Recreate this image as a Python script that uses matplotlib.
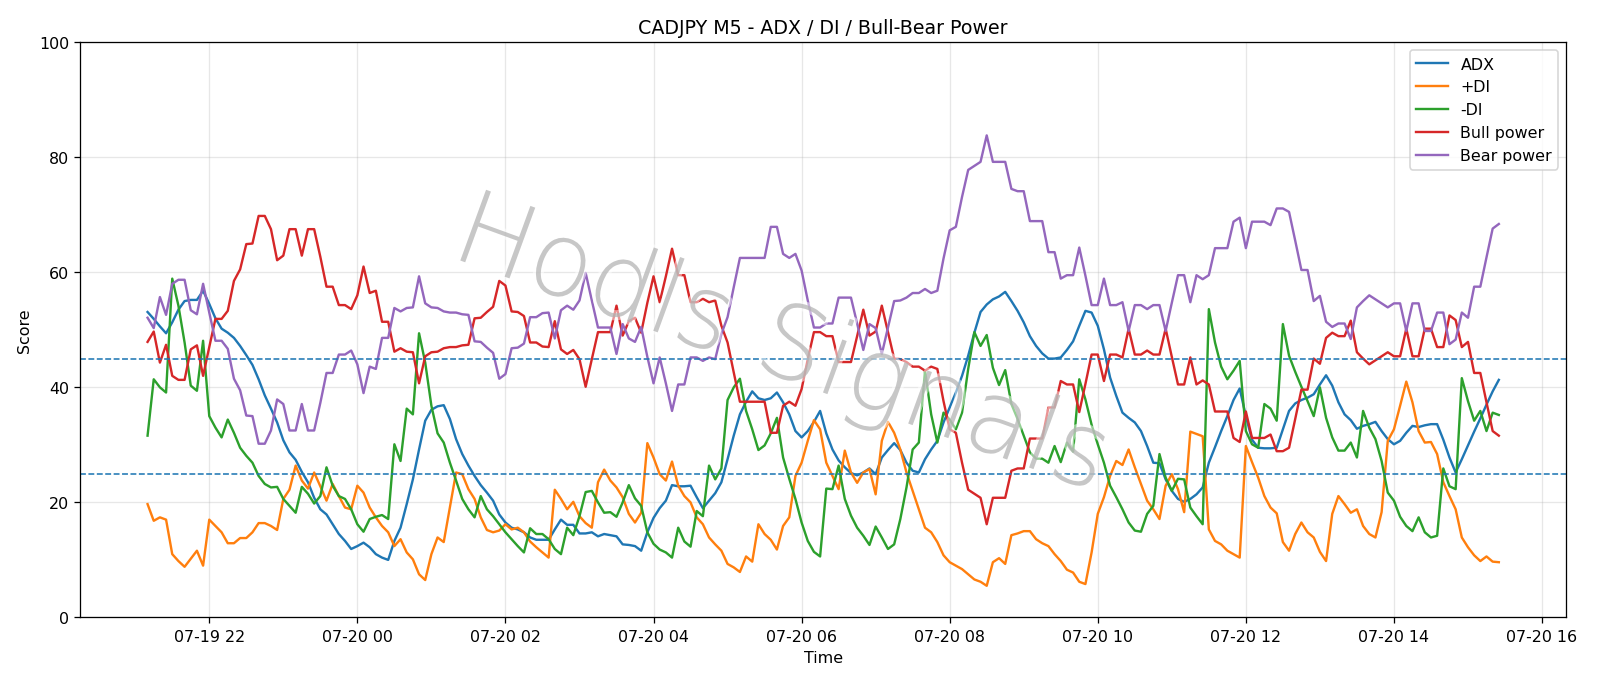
import matplotlib
matplotlib.use("Agg")
import matplotlib.pyplot as plt
import matplotlib.dates as mdates
import matplotlib.patheffects as pe
import pandas as pd

start_time = "2025-07-19 21:10"
freq = "5min"

adx = [53.1, 51.9, 50.6, 49.4, 51.3, 53.5, 55.0, 55.2, 55.2, 56.8,
       54.5, 52.0, 50.2, 49.5, 48.6, 47.2, 45.6, 43.9, 41.4, 38.6,
       36.3, 33.9, 30.8, 28.7, 27.4, 25.3, 23.5, 20.8, 18.8, 17.9,
       16.2, 14.5, 13.3, 11.9, 12.4, 13.0, 12.2, 11.0, 10.4, 10.0,
       13.3, 15.6, 19.7, 24.0, 29.2, 34.2, 36.1, 36.7, 36.9, 34.5,
       31.0, 28.4, 26.4, 24.6, 23.0, 21.7, 20.3, 17.9, 16.5, 15.6,
       15.3, 14.8, 13.9, 13.5, 13.5, 13.5, 15.3, 17.0, 16.1, 16.1,
       14.6, 14.6, 14.8, 14.1, 14.5, 14.3, 14.1, 12.7, 12.6, 12.4,
       11.6, 14.8, 17.3, 19.0, 20.3, 23.0, 22.8, 22.8, 22.9, 20.9,
       19.0, 20.3, 21.6, 23.5, 27.5, 31.6, 35.3, 37.5, 39.3, 38.1,
       37.8, 38.1, 39.1, 37.4, 35.3, 32.4, 31.3, 32.4, 34.0, 35.9,
       32.0, 29.2, 27.3, 26.1, 25.1, 24.7, 25.2, 25.9, 24.9, 27.8,
       29.1, 30.3, 29.1, 26.9, 25.5, 25.2, 27.5, 29.2, 30.7, 33.9,
       36.5, 39.1, 42.0, 45.5, 49.5, 53.1, 54.4, 55.3, 55.8, 56.6,
       55.0, 53.3, 51.3, 48.9, 47.2, 45.9, 45.0, 45.0, 45.2, 46.5,
       48.0, 50.7, 53.3, 53.0, 50.7, 46.6, 41.7, 38.5, 35.6, 34.7,
       33.9, 32.4, 29.8, 26.9, 26.8, 24.0, 22.0, 20.6, 20.1, 20.6,
       21.4, 22.6, 26.9, 29.6, 32.4, 35.0, 37.8, 39.8, 35.0, 30.9,
       29.5, 29.4, 29.4, 29.5, 32.7, 35.9, 37.2, 37.8, 38.2, 38.8,
       40.5, 42.1, 40.3, 37.4, 35.3, 34.3, 32.8, 33.3, 33.6, 34.0,
       32.4, 31.0, 30.1, 30.7, 32.1, 33.3, 33.1, 33.4, 33.6, 33.6,
       30.9, 27.8, 25.2, 27.5, 29.9, 32.3, 34.6, 37.0, 39.3, 41.3]

plus_di = [19.7, 16.8, 17.4, 17.0, 11.0, 9.8, 8.8, 10.2, 11.6, 9.0,
           17.0, 15.9, 14.8, 12.9, 12.9, 13.8, 13.8, 14.8, 16.4, 16.4,
           15.9, 15.2, 20.6, 22.2, 26.4, 23.8, 22.4, 25.2, 22.8, 20.3,
           23.2, 21.1, 19.1, 18.8, 22.9, 21.7, 19.1, 17.4, 15.9, 14.8,
           12.4, 13.6, 11.3, 10.1, 7.5, 6.5, 11.0, 13.9, 13.1, 19.1,
           25.2, 24.9, 22.3, 20.6, 17.4, 15.2, 14.8, 15.1, 16.2, 15.3,
           15.6, 14.8, 13.2, 12.2, 11.3, 10.4, 22.2, 20.6, 18.8, 20.1,
           17.6, 16.4, 15.6, 23.5, 25.7, 23.8, 22.6, 20.9, 18.0, 16.5,
           18.2, 30.3, 27.8, 24.9, 23.8, 27.1, 22.9, 21.1, 20.0, 17.4,
           16.2, 13.9, 12.7, 11.6, 9.3, 8.7, 7.9, 10.6, 9.7, 16.2,
           14.5, 13.5, 11.8, 15.9, 17.4, 24.6, 26.9, 30.7, 34.3, 32.7,
           26.9, 24.6, 22.3, 29.0, 25.2, 23.4, 25.2, 25.8, 21.4, 30.7,
           34.0, 32.1, 29.2, 25.2, 22.0, 18.8, 15.6, 14.8, 13.1, 10.8,
           9.6, 9.0, 8.4, 7.5, 6.6, 6.2, 5.5, 9.6, 10.3, 9.3,
           14.3, 14.6, 15.0, 15.0, 13.6, 12.9, 12.4, 11.0, 9.8, 8.3,
           7.8, 6.2, 5.8, 11.3, 18.0, 20.9, 24.6, 27.2, 26.5, 29.2,
           26.1, 23.2, 20.3, 18.8, 17.1, 22.9, 24.9, 22.3, 18.3, 32.3,
           31.9, 31.5, 15.3, 13.3, 12.7, 11.6, 11.0, 10.4, 29.8, 27.0,
           24.3, 21.1, 19.1, 18.1, 13.1, 11.6, 14.5, 16.5, 14.8, 13.9,
           11.4, 9.8, 18.0, 21.1, 19.7, 18.2, 18.8, 15.9, 14.5, 13.9,
           18.3, 30.7, 32.7, 36.8, 41.0, 37.4, 32.4, 30.4, 30.5, 28.4,
           23.5, 21.1, 18.8, 13.9, 12.2, 10.8, 9.8, 10.6, 9.7, 9.6]

minus_di = [31.6, 41.4, 40.0, 39.1, 58.9, 54.2, 47.8, 40.3, 39.4, 48.1,
            35.0, 33.0, 31.3, 34.4, 32.1, 29.5, 28.1, 26.9, 24.6, 23.2,
            22.6, 22.7, 20.6, 19.4, 18.2, 22.7, 21.5, 19.8, 21.1, 26.1,
            22.9, 21.1, 20.6, 18.8, 16.2, 14.9, 17.1, 17.5, 17.8, 17.1,
            30.1, 27.2, 36.3, 35.3, 49.4, 44.3, 36.8, 32.0, 30.4, 26.9,
            23.8, 20.6, 18.8, 17.4, 21.1, 18.8, 17.6, 16.2, 14.8, 13.6,
            12.4, 11.3, 15.5, 14.5, 14.5, 13.6, 11.9, 11.0, 15.6, 14.3,
            17.6, 21.8, 22.0, 20.0, 18.2, 18.3, 17.5, 20.0, 23.0, 20.7,
            19.4, 14.8, 12.8, 11.8, 11.3, 10.4, 15.6, 13.2, 12.3, 18.5,
            17.6, 26.4, 24.0, 25.9, 37.8, 40.0, 41.5, 35.9, 32.7, 29.1,
            29.9, 32.0, 34.7, 27.8, 24.1, 20.6, 16.5, 13.3, 11.4, 10.6,
            22.4, 22.3, 26.4, 20.6, 17.7, 15.6, 14.2, 12.6, 15.8, 13.9,
            11.9, 12.7, 17.1, 22.6, 29.2, 30.4, 42.9, 35.3, 30.4, 35.6,
            34.4, 32.7, 35.6, 43.2, 49.6, 47.2, 49.1, 43.4, 40.4, 43.0,
            37.1, 34.5, 31.6, 28.7, 27.6, 27.6, 26.9, 29.8, 27.0, 30.4,
            28.8, 41.4, 37.9, 33.5, 30.1, 26.9, 22.9, 20.9, 18.8, 16.5,
            15.1, 14.9, 18.0, 19.4, 28.4, 24.3, 22.0, 24.1, 24.0, 19.1,
            17.6, 16.2, 53.6, 47.8, 43.6, 41.4, 42.9, 44.6, 32.4, 30.1,
            29.5, 37.1, 36.3, 34.2, 51.0, 45.5, 42.7, 40.1, 37.6, 35.0,
            40.0, 34.7, 31.3, 29.0, 29.0, 30.4, 27.8, 35.9, 33.0, 31.0,
            27.2, 21.7, 20.3, 17.5, 15.9, 15.0, 17.4, 14.8, 13.9, 14.2,
            25.9, 22.8, 22.3, 41.6, 37.6, 34.2, 35.9, 32.4, 35.6, 35.2]

bull_power = [47.9, 49.7, 44.3, 47.4, 42.0, 41.3, 41.3, 46.6, 47.3, 42.0,
              47.0, 51.9, 51.9, 53.3, 58.5, 60.5, 64.9, 65.0, 69.8, 69.8,
              67.5, 62.1, 62.9, 67.5, 67.5, 62.9, 67.5, 67.5, 62.7, 57.5,
              57.5, 54.3, 54.3, 53.6, 56.0, 61.0, 56.4, 56.8, 51.4, 51.4,
              46.2, 46.8, 46.2, 46.1, 40.7, 45.4, 46.1, 46.2, 46.8, 47.0,
              47.0, 47.3, 47.4, 52.0, 52.1, 53.1, 54.0, 58.5, 57.7, 53.2,
              53.1, 52.4, 47.8, 47.8, 47.1, 47.0, 51.5, 46.6, 45.8, 46.5,
              44.9, 40.1, 44.9, 49.6, 49.6, 49.6, 54.2, 49.0, 51.5, 52.1,
              49.5, 54.7, 59.3, 54.8, 59.3, 64.1, 59.5, 59.5, 54.8, 54.8,
              55.4, 54.8, 55.1, 50.7, 47.8, 42.6, 37.5, 37.5, 37.5, 37.5,
              37.5, 32.1, 32.1, 36.8, 37.5, 36.8, 39.7, 44.9, 49.6, 49.6,
              48.9, 48.9, 44.4, 44.4, 44.4, 48.9, 53.5, 49.0, 49.7, 54.2,
              49.6, 45.0, 44.9, 44.4, 43.6, 43.6, 42.9, 43.6, 43.2, 37.6,
              32.7, 32.1, 26.9, 22.2, 21.5, 20.8, 16.2, 20.8, 20.8, 20.8,
              25.5, 25.9, 25.9, 31.1, 31.1, 31.1, 36.5, 36.5, 41.1, 40.5,
              40.5, 35.7, 40.6, 45.7, 45.7, 41.1, 45.7, 45.7, 45.2, 50.2,
              45.7, 45.7, 46.4, 45.7, 45.7, 50.2, 45.3, 40.5, 40.5, 45.2,
              40.5, 41.2, 40.5, 35.8, 35.8, 35.8, 31.2, 30.5, 35.8, 31.2,
              31.2, 31.2, 31.8, 28.9, 28.9, 29.5, 34.5, 39.6, 39.6, 45.0,
              44.1, 48.6, 49.5, 48.9, 48.9, 51.6, 46.1, 45.0, 44.0, 44.7,
              45.4, 46.1, 45.4, 45.4, 50.2, 45.4, 45.4, 50.2, 50.2, 47.0,
              47.0, 52.5, 51.7, 47.0, 47.9, 42.5, 42.5, 37.4, 32.4, 31.6]

bear_power = [52.1, 50.3, 55.7, 52.6, 58.0, 58.7, 58.7, 53.4, 52.7, 58.0,
              53.0, 48.1, 48.1, 46.7, 41.5, 39.5, 35.1, 35.0, 30.2, 30.2,
              32.5, 37.9, 37.1, 32.5, 32.5, 37.1, 32.5, 32.5, 37.3, 42.5,
              42.5, 45.7, 45.7, 46.4, 44.0, 39.0, 43.6, 43.2, 48.6, 48.6,
              53.8, 53.2, 53.8, 53.9, 59.3, 54.6, 53.9, 53.8, 53.2, 53.0,
              53.0, 52.7, 52.6, 48.0, 47.9, 46.9, 46.0, 41.5, 42.3, 46.8,
              46.9, 47.6, 52.2, 52.2, 52.9, 53.0, 48.5, 53.4, 54.2, 53.5,
              55.1, 59.9, 55.1, 50.4, 50.4, 50.4, 45.8, 51.0, 48.5, 47.9,
              50.5, 45.3, 40.7, 45.2, 40.7, 35.9, 40.5, 40.5, 45.2, 45.2,
              44.6, 45.2, 44.9, 49.3, 52.2, 57.4, 62.5, 62.5, 62.5, 62.5,
              62.5, 67.9, 67.9, 63.2, 62.5, 63.2, 60.3, 55.1, 50.4, 50.4,
              51.1, 51.1, 55.6, 55.6, 55.6, 51.1, 46.5, 51.0, 50.3, 45.8,
              50.4, 55.0, 55.1, 55.6, 56.4, 56.4, 57.1, 56.4, 56.8, 62.4,
              67.3, 67.9, 73.1, 77.8, 78.5, 79.2, 83.8, 79.2, 79.2, 79.2,
              74.5, 74.1, 74.1, 68.9, 68.9, 68.9, 63.5, 63.5, 58.9, 59.5,
              59.5, 64.3, 59.4, 54.3, 54.3, 58.9, 54.3, 54.3, 54.8, 49.8,
              54.3, 54.3, 53.6, 54.3, 54.3, 49.8, 54.7, 59.5, 59.5, 54.8,
              59.5, 58.8, 59.5, 64.2, 64.2, 64.2, 68.8, 69.5, 64.2, 68.8,
              68.8, 68.8, 68.2, 71.1, 71.1, 70.5, 65.5, 60.4, 60.4, 55.0,
              55.9, 51.4, 50.5, 51.1, 51.1, 48.4, 53.9, 55.0, 56.0, 55.3,
              54.6, 53.9, 54.6, 54.6, 49.8, 54.6, 54.6, 49.8, 49.8, 53.0,
              53.0, 47.5, 48.3, 53.0, 52.1, 57.5, 57.5, 62.6, 67.6, 68.4]

levels = [45, 25]
title = "CADJPY M5 - ADX / DI / Bull-Bear Power"
watermark = "Hodls Signals"

times = pd.date_range(start=start_time, periods=len(adx), freq=freq)

fig = plt.figure(figsize=(14, 6.0025), dpi=114.2857)
ax = fig.add_axes([0.05, 0.0985, 0.929, 0.8385])

ax.plot(times, adx, label="ADX", color="C0")
ax.plot(times, plus_di, label="+DI", color="C1")
ax.plot(times, minus_di, label="-DI", color="C2")
ax.plot(times, bull_power, label="Bull power", color="C3")
ax.plot(times, bear_power, label="Bear power", color="C4")

for lv in levels:
    ax.axhline(lv, linestyle="--", color="C0", linewidth=1.0)

ax.set_ylim(0, 100)
ax.grid(True, alpha=0.3)
ax.set_title(title)
ax.set_xlabel("Time")
ax.set_ylabel("Score")
ax.xaxis.set_major_locator(mdates.HourLocator(interval=2))
ax.xaxis.set_major_formatter(mdates.DateFormatter("%m-%d %H"))
ax.legend(loc="upper right")

ax.text(0.472, 0.47, watermark, transform=ax.transAxes, ha="center", va="center",
        rotation=-20, fontsize=65, fontweight="light", family="DejaVu Sans",
        color="#a0a0a0", alpha=0.45,
        path_effects=[pe.withStroke(linewidth=4, foreground="white", alpha=0.5)],
        zorder=5)

fig.savefig("out.png", dpi=114.2857)
